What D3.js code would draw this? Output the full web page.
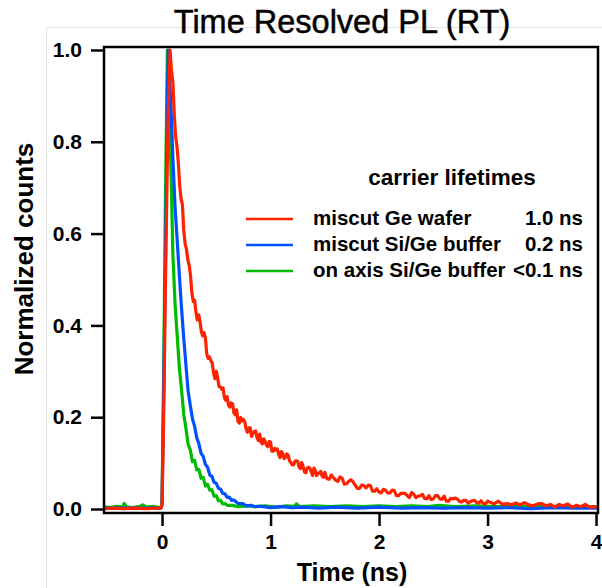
<!DOCTYPE html>
<meta charset="utf-8">
<style>
  body { margin: 0; background: #fff; }
  text { font-family: "Liberation Sans", Arial, sans-serif; fill: #000; }
  .tick text { font-weight: bold; font-size: 21px; }
  .trace { fill: none; stroke-width: 3.2; stroke-linejoin: round; }
</style>
<body>
<script src="https://d3js.org/d3.v7.min.js"></script>
<script>
// time (ns), normalized counts
var red = [[-0.53,0.001],[-0.45,0.002],[-0.35,0.001],[-0.25,0.002],[-0.15,0.001],[-0.05,0.002],[-0.01,0.002],
  [0.0,0.01],[0.015,0.2],[0.035,0.55],[0.055,0.85],[0.074,1.0],[0.085,0.96],
  [0.100,0.929],[0.1125,0.861],[0.125,0.812],[0.1375,0.79],[0.150,0.754],[0.1625,0.705],[0.175,0.676],[0.1875,0.663],
  [0.200,0.608],[0.2125,0.578],[0.225,0.566],[0.2375,0.543],[0.250,0.531],[0.2625,0.508],[0.275,0.471],[0.2875,0.452],
  [0.300,0.455],[0.3125,0.429],[0.325,0.412],[0.3375,0.423],[0.350,0.408],[0.3625,0.386],[0.375,0.377],[0.3875,0.384],
  [0.400,0.372],[0.4125,0.337],[0.425,0.328],[0.4375,0.331],[0.450,0.323],[0.4625,0.318],[0.475,0.296],[0.4875,0.284],
  [0.500,0.300],[0.5125,0.286],[0.525,0.267],[0.5375,0.266],[0.550,0.261],[0.5625,0.264],[0.575,0.242],[0.5875,0.237],
  [0.600,0.245],[0.6125,0.226],[0.625,0.222],[0.6375,0.231],[0.650,0.229],[0.6625,0.209],[0.675,0.205],[0.6875,0.216],
  [0.700,0.191],[0.7125,0.187],[0.725,0.199],[0.7375,0.192],[0.750,0.195],[0.7625,0.190],[0.775,0.174],[0.7875,0.167],
  [0.800,0.177],[0.8125,0.177],[0.825,0.158],[0.8375,0.165],[0.850,0.169],[0.8625,0.170],[0.875,0.156],[0.8875,0.149],
  [0.900,0.163],[0.9125,0.145],[0.925,0.142],[0.9375,0.153],[0.950,0.147],[0.9625,0.139],[0.975,0.136],[0.9875,0.147],
  [1.000,0.146],[1.0125,0.126],[1.025,0.126],[1.0375,0.132],[1.050,0.129],[1.0625,0.131],[1.075,0.119],[1.0875,0.112],
  [1.100,0.125],[1.1125,0.121],[1.125,0.110],[1.1375,0.112],[1.150,0.120],[1.1625,0.117],[1.175,0.105],[1.1875,0.101],
  [1.200,0.096],[1.2125,0.096],[1.225,0.104],[1.2375,0.105],[1.250,0.104],[1.2625,0.092],[1.275,0.088],[1.2875,0.101],
  [1.300,0.093],[1.3125,0.081],[1.325,0.079],[1.3375,0.089],[1.350,0.091],[1.3625,0.089],[1.375,0.081],[1.3875,0.073],
  [1.400,0.089],[1.4125,0.084],[1.425,0.073],[1.4375,0.077],[1.450,0.079],[1.4625,0.082],[1.475,0.072],[1.4875,0.069],
  [1.500,0.080],[1.52,0.066],[1.54,0.065],[1.56,0.074],[1.58,0.068],[1.60,0.063],[1.62,0.060],[1.64,0.070],
  [1.66,0.067],[1.68,0.054],[1.70,0.055],[1.72,0.060],[1.74,0.064],[1.76,0.059],[1.78,0.052],[1.80,0.045],
  [1.82,0.045],[1.84,0.052],[1.86,0.051],[1.88,0.046],[1.90,0.052],[1.92,0.051],[1.94,0.039],[1.96,0.039],
  [1.98,0.044],[2.00,0.037],[2.02,0.035],[2.04,0.043],[2.06,0.041],[2.08,0.035],[2.10,0.035],[2.12,0.041],
  [2.14,0.040],[2.16,0.029],[2.18,0.029],[2.20,0.034],[2.22,0.034],[2.24,0.034],[2.26,0.029],[2.28,0.025],
  [2.30,0.036],[2.32,0.032],[2.34,0.025],[2.36,0.028],[2.38,0.029],[2.40,0.032],[2.42,0.023],[2.44,0.022],
  [2.46,0.029],[2.48,0.021],[2.50,0.022],[2.52,0.029],[2.54,0.029],[2.56,0.022],[2.58,0.021],[2.60,0.028],
  [2.62,0.017],[2.64,0.017],[2.66,0.023],[2.68,0.022],[2.70,0.024],[2.72,0.022],[2.74,0.017],[2.76,0.015],
  [2.78,0.019],[2.80,0.019],[2.82,0.013],[2.84,0.016],[2.86,0.018],[2.88,0.019],[2.90,0.014],[2.92,0.013],
  [2.94,0.018],[2.96,0.012],[2.98,0.011],[3.00,0.017],[3.02,0.015],[3.06,0.011],
  [3.10,0.017],[3.14,0.010],[3.18,0.012],[3.22,0.009],[3.26,0.013],[3.30,0.009],[3.34,0.014],[3.38,0.009],
  [3.42,0.007],[3.46,0.011],[3.50,0.012],[3.54,0.007],[3.58,0.010],[3.62,0.004],[3.66,0.010],[3.70,0.007],
  [3.74,0.011],[3.78,0.004],[3.82,0.008],[3.86,0.005],[3.90,0.010],[3.94,0.004],[3.98,0.005],[4.01,0.004]];

var blue = [[-0.53,0.002],[-0.3,0.002],[-0.01,0.002],
  [0.0,0.01],[0.015,0.25],[0.035,0.6],[0.05,0.9],[0.058,1.0],[0.066,0.95],[0.08,0.89],
  [0.10,0.764],[0.12,0.657],[0.14,0.584],[0.16,0.508],[0.18,0.436],[0.20,0.372],[0.22,0.314],[0.24,0.257],
  [0.26,0.226],[0.28,0.197],[0.30,0.180],[0.32,0.155],[0.34,0.142],[0.36,0.121],[0.38,0.114],[0.40,0.097],
  [0.42,0.091],[0.44,0.074],[0.46,0.071],[0.48,0.058],[0.50,0.056],[0.52,0.045],[0.54,0.043],[0.56,0.034],
  [0.58,0.033],[0.60,0.025],[0.62,0.026],[0.64,0.019],[0.66,0.020],[0.70,0.012],[0.74,0.012],[0.78,0.007],
  [0.82,0.008],[0.86,0.005],[0.90,0.006],[1.0,0.003],[1.1,0.005],[1.2,0.003],[1.3,0.004],[1.45,0.002],
  [1.6,0.004],[1.8,0.002],[2.0,0.004],[2.2,0.002],[2.4,0.003],[2.6,0.002],[2.8,0.003],[3.0,0.002],
  [3.2,0.003],[3.4,0.001],[3.6,0.003],[3.8,0.002],[4.01,0.002]];

var green = [[-0.53,0.005],[-0.48,0.003],[-0.42,0.006],[-0.36,0.004],[-0.35,0.012],[-0.33,0.005],[-0.27,0.003],
  [-0.2,0.006],[-0.18,0.009],[-0.14,0.004],[-0.08,0.006],[-0.03,0.003],[-0.005,0.005],
  [0.0,0.02],[0.015,0.3],[0.03,0.65],[0.049,1.0],[0.06,0.92],[0.08,0.76],
  [0.10,0.555],[0.12,0.446],[0.14,0.376],[0.16,0.306],[0.18,0.259],[0.20,0.206],[0.22,0.176],[0.24,0.141],
  [0.26,0.129],[0.28,0.103],[0.30,0.106],[0.32,0.085],[0.34,0.086],[0.36,0.067],[0.38,0.069],[0.40,0.050],
  [0.42,0.054],[0.44,0.041],[0.46,0.042],[0.48,0.028],[0.50,0.029],[0.52,0.018],[0.54,0.019],[0.56,0.011],
  [0.58,0.012],[0.60,0.008],[0.65,0.008],[0.70,0.005],[0.78,0.007],[0.86,0.005],[0.95,0.007],[1.05,0.004],
  [1.15,0.007],[1.22,0.006],[1.24,0.011],[1.27,0.005],[1.4,0.007],[1.55,0.005],[1.7,0.007],[1.85,0.005],
  [2.0,0.007],[2.15,0.005],[2.3,0.007],[2.45,0.005],[2.55,0.008],[2.7,0.005],[2.9,0.007],[3.05,0.005],
  [3.2,0.006],[3.4,0.005],[3.6,0.006],[3.8,0.005],[4.01,0.005]];

var xTicks = [0, 1, 2, 3, 4];
var yTicks = [0, 0.2, 0.4, 0.6, 0.8, 1.0];

var names = ["miscut Ge wafer", "miscut Si/Ge buffer", "on axis Si/Ge buffer"];
var lifetimes = ["1.0 ns", "0.2 ns", "<0.1 ns"];
var colors = ["#ff2200", "#0050ff", "#00bb00"];

var width = 602, height = 588;
var plot = {left: 104, right: 598, top: 47, bottom: 513};

var svg = d3.select("body").append("svg")
    .attr("width", width)
    .attr("height", height);

svg.append("rect").attr("width", width).attr("height", height).attr("fill", "#fff");

// faint outer box from the original graphic
svg.append("path")
    .attr("d", "M46.5," + height + "V27.5H" + width)
    .attr("fill", "none")
    .attr("stroke", "#e4e4e4");

var x = d3.scaleLinear().domain([-0.535, 4.018]).range([plot.left, plot.right]);
var y = d3.scaleLinear().domain([-0.0087, 1.0065]).range([plot.bottom, plot.top]);

var line = d3.line()
    .x(function (d) { return x(d[0]); })
    .y(function (d) { return y(d[1]); });

svg.append("clipPath").attr("id", "clip")
  .append("rect")
    .attr("x", plot.left).attr("y", plot.top)
    .attr("width", plot.right - plot.left).attr("height", plot.bottom - plot.top);

var traces = svg.append("g").attr("clip-path", "url(#clip)");
[green, blue, red].forEach(function (d, i) {
  traces.append("path")
      .datum(d)
      .attr("class", "trace")
      .attr("stroke", [colors[2], colors[1], colors[0]][i])
      .attr("stroke-width", i === 2 ? 3.8 : 3.2)
      .attr("d", line);
});

// frame
svg.append("rect")
    .attr("x", plot.left).attr("y", plot.top)
    .attr("width", plot.right - plot.left).attr("height", plot.bottom - plot.top)
    .attr("fill", "none")
    .attr("stroke", "#000")
    .attr("stroke-width", 2.5);

var xAxis = svg.append("g")
    .attr("transform", "translate(0," + plot.bottom + ")")
    .call(d3.axisBottom(x).tickValues(xTicks).tickFormat(d3.format("d")).tickSize(13).tickPadding(8));

var yAxis = svg.append("g")
    .attr("transform", "translate(" + plot.left + ",0)")
    .call(d3.axisLeft(y).tickValues(yTicks).tickFormat(d3.format(".1f")).tickSize(13).tickPadding(9));

[xAxis, yAxis].forEach(function (a) {
  a.select(".domain").remove();
  a.selectAll(".tick line").attr("stroke", "#000").attr("stroke-width", 2.5);
  a.selectAll(".tick text").attr("fill", "#000");
});

svg.append("text")
    .attr("x", 342).attr("y", 33)
    .attr("text-anchor", "middle")
    .style("font-size", "32.5px")
    .style("stroke", "#000").style("stroke-width", 0.5)
    .text("Time Resolved PL (RT)");

svg.append("text")
    .attr("x", 352).attr("y", 581)
    .attr("text-anchor", "middle")
    .style("font-size", "25px").style("font-weight", "bold")
    .text("Time (ns)");

svg.append("text")
    .attr("transform", "translate(33,259) rotate(-90)")
    .attr("text-anchor", "middle")
    .style("font-size", "26px").style("font-weight", "bold")
    .text("Normalized counts");

// legend
var legend = svg.append("g").attr("class", "legend");

legend.append("text")
    .attr("x", 452).attr("y", 185)
    .attr("text-anchor", "middle")
    .style("font-size", "22.5px").style("font-weight", "bold")
    .text("carrier lifetimes");

var rows = legend.selectAll(".row")
    .data(names)
  .enter().append("g")
    .attr("class", "row")
    .attr("transform", function (d, i) { return "translate(0," + (225 + i * 26) + ")"; });

rows.append("line")
    .attr("x1", 246).attr("x2", 293)
    .attr("y1", -6).attr("y2", -6)
    .attr("stroke", function (d, i) { return colors[i]; })
    .attr("stroke-width", 2.6);

rows.append("text")
    .attr("x", 313)
    .style("font-size", "20.5px").style("font-weight", "bold")
    .text(function (d) { return d; });

rows.append("text")
    .attr("x", 583)
    .attr("text-anchor", "end")
    .style("font-size", "20.5px").style("font-weight", "bold")
    .text(function (d, i) { return lifetimes[i]; });
</script>
</body>
</html>
